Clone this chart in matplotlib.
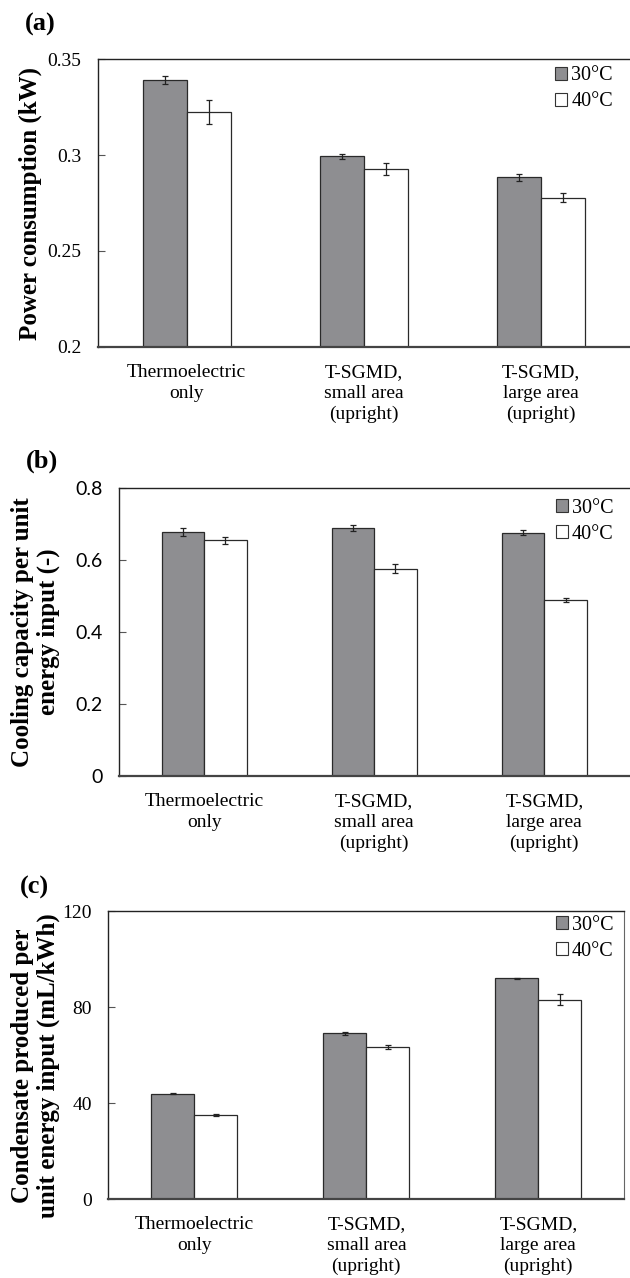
import matplotlib
matplotlib.use("Agg")
import matplotlib.pyplot as plt
import numpy as np
from matplotlib.patches import Patch

plt.rcParams['font.family'] = ['Liberation Serif', 'DejaVu Serif']
plt.rcParams['mathtext.fontset'] = 'stix'

categories = ["Thermoelectric\nonly", "T-SGMD,\nsmall area\n(upright)", "T-SGMD,\nlarge area\n(upright)"]
series_names = ["30°C", "40°C"]

power_30 = [0.339, 0.2993, 0.2884]
power_40 = [0.3226, 0.2925, 0.2778]
power_30_err = [0.0021, 0.0012, 0.0017]
power_40_err = [0.0062, 0.0031, 0.0023]

cool_30 = [0.678, 0.689, 0.677]
cool_40 = [0.655, 0.577, 0.4895]
cool_30_err = [0.011, 0.008, 0.0074]
cool_40_err = [0.0107, 0.0125, 0.0065]

cond_30 = [43.9, 69.1, 92.0]
cond_40 = [35.2, 63.4, 83.1]
cond_30_err = [0.3, 0.6, 0.2]
cond_40_err = [0.4, 0.8, 2.2]

panels = [
    dict(label="(a)", ylabel="Power consumption (kW)", s30=power_30, s40=power_40,
         e30=power_30_err, e40=power_40_err, ylim=(0.2, 0.35),
         yticks=[0.2, 0.25, 0.3, 0.35], yticklabels=["0.2", "0.25", "0.3", "0.35"],
         rect=[0.156, 0.7285, 0.843, 0.2253], tickfont=None, right=False,
         lab_xy=(0.04, 1 - 24 / 1278), ylab_y=0.5, ylab_x=-0.106, leg_x=0.975, leg_y=0.985),
    dict(label="(b)", ylabel="Cooling capacity per unit\nenergy input (-)", s30=cool_30, s40=cool_40,
         e30=cool_30_err, e40=cool_40_err, ylim=(0, 0.8),
         yticks=[0, 0.2, 0.4, 0.6, 0.8], yticklabels=["0", "0.2", "0.4", "0.6", "0.8"],
         rect=[0.189, 0.3928, 0.81, 0.2251], tickfont='Lato', right=False,
         lab_xy=(0.041, 1 - 461 / 1278), ylab_y=0.5, ylab_x=-0.116, leg_x=0.975, leg_y=0.975),
    dict(label="(c)", ylabel="Condensate produced per\nunit energy input (mL/kWh)", s30=cond_30, s40=cond_40,
         e30=cond_30_err, e40=cond_40_err, ylim=(0, 120),
         yticks=[0, 40, 80, 120], yticklabels=["0", "40", "80", "120"],
         rect=[0.172, 0.0618, 0.819, 0.2252], tickfont=None, right=True,
         lab_xy=(0.032, 1 - 887 / 1278), ylab_y=0.462, ylab_x=-0.094, leg_x=0.985, leg_y=0.995),
]

fig = plt.figure(figsize=(6.3, 12.78), dpi=100)
gray = '#8e8e91'
x = np.arange(len(categories))
w = 0.25

for p in panels:
    ax = fig.add_axes(p['rect'])
    ax.bar(x - w/2, p['s30'], w, color=gray, edgecolor='#2a2a2a', linewidth=0.9,
           yerr=p['e30'], capsize=2.3, error_kw=dict(elinewidth=0.9, capthick=0.9, ecolor='#222'),
           label=series_names[0])
    ax.bar(x + w/2, p['s40'], w, color='white', edgecolor='#2a2a2a', linewidth=0.9,
           yerr=p['e40'], capsize=2.3, error_kw=dict(elinewidth=0.9, capthick=0.9, ecolor='#222'),
           label=series_names[1])
    ax.set_xlim(-0.5, 2.5)
    ax.set_ylim(*p['ylim'])
    ax.set_yticks(p['yticks'])
    if p['tickfont']:
        ax.set_yticklabels(p['yticklabels'], fontsize=14, family=p['tickfont'])
    else:
        ax.set_yticklabels(p['yticklabels'], fontsize=14)
    ax.set_xticks(x)
    ax.set_xticklabels(categories, fontsize=14, linespacing=1.3)
    ax.tick_params(axis='x', length=0, pad=12)
    ax.tick_params(axis='y', direction='in', length=5, width=0.8, color='#555', pad=12)
    for s in ['left', 'top']:
        ax.spines[s].set_linewidth(1.0)
        ax.spines[s].set_color('#222')
    ax.spines['bottom'].set_linewidth(1.6)
    ax.spines['bottom'].set_color('#444')
    ax.spines['right'].set_visible(p['right'])
    ax.spines['right'].set_color('#666')
    ax.set_ylabel(p['ylabel'], fontsize=18, fontweight='bold', linespacing=1.12)
    ax.yaxis.set_label_coords(p['ylab_x'], p['ylab_y'])
    handles = [Patch(facecolor=gray, edgecolor='#333', linewidth=0.8),
               Patch(facecolor='white', edgecolor='#333', linewidth=0.8)]
    ax.legend(handles, series_names, loc='upper right', bbox_to_anchor=(p['leg_x'], p['leg_y']),
              frameon=False, fontsize=14.5,
              handlelength=0.6, handleheight=0.6, handletextpad=0.2, labelspacing=0.35,
              borderaxespad=0.0, borderpad=0.15)
    fig.text(p['lab_xy'][0], p['lab_xy'][1], p['label'], fontsize=19, fontweight='bold',
             va='center', ha='left')

fig.savefig("out.png", dpi=100)
